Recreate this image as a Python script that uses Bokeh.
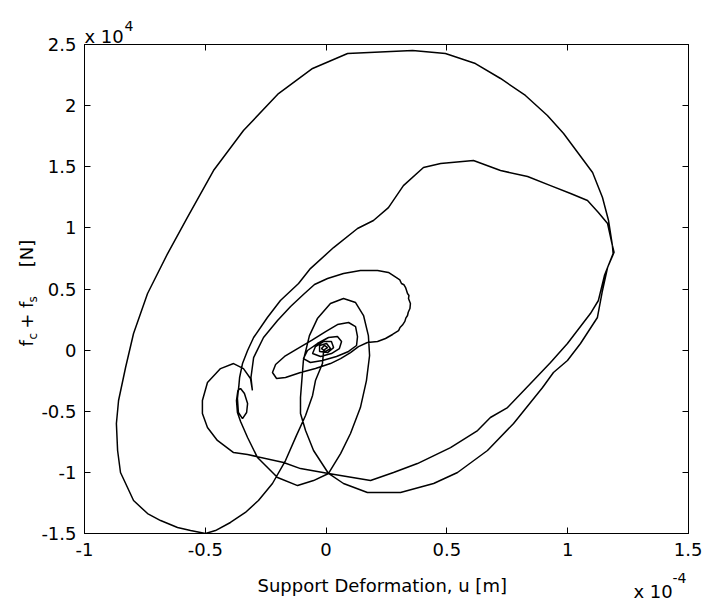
import math

from bokeh.embed import file_html
from bokeh.models import FixedTicker, Label, LinearAxis, Range1d
from bokeh.plotting import figure
from bokeh.resources import INLINE

FONT = "DejaVu Sans"
NB = "\u00a0"  # non-collapsing space used to lay out sub/superscripts

# Axis ticks (deformation in units of 1e-4 m, force in units of 1e4 N)
x_ticks = [-1, -0.5, 0, 0.5, 1, 1.5]
x_tick_labels = ["-1", "-0.5", "0", "0.5", "1", "1.5"]
y_ticks = [-1.5, -1, -0.5, 0, 0.5, 1, 1.5, 2, 2.5]
y_tick_labels = ["-1.5", "-1", "-0.5", "0", "0.5", "1", "1.5", "2", "2.5"]

# Hysteresis trajectory, in time order, split into phases
# initial pulse from rest
u_pulse = [-0.010, -0.015, -0.044, -0.056, -0.085, -0.123, -0.168, -0.222,
           -0.280, -0.334, -0.396, -0.458, -0.499]
f_pulse = [0.000, -0.110, -0.249, -0.371, -0.535, -0.699, -0.903, -1.091,
           -1.230, -1.328, -1.410, -1.476, -1.500]

# first (largest) cycle
u_cycle1 = [-0.561, -0.615, -0.685, -0.739, -0.797, -0.822, -0.851, -0.863,
            -0.868, -0.859, -0.830, -0.797, -0.739, -0.656, -0.574, -0.466,
            -0.342, -0.197, -0.056, 0.089, 0.358, 0.494, 0.618, 0.722,
            0.825, 0.916, 0.983, 1.103, 1.144, 1.169, 1.185, 1.192,
            1.165, 1.144, 1.123, 1.053, 0.999, 0.941, 0.896, 0.776,
            0.668, 0.544, 0.445, 0.308, 0.171]
f_cycle1 = [-1.476, -1.451, -1.394, -1.337, -1.230, -1.124, -1.001, -0.821,
            -0.600, -0.412, -0.142, 0.136, 0.463, 0.790, 1.085, 1.469,
            1.796, 2.099, 2.304, 2.426, 2.451, 2.426, 2.344, 2.222,
            2.083, 1.919, 1.772, 1.453, 1.248, 1.060, 0.856, 0.800,
            0.676, 0.488, 0.267, 0.054, -0.085, -0.183, -0.306, -0.600,
            -0.821, -1.001, -1.091, -1.165, -1.165]

# narrow return loop
u_return = [0.072, 0.010, -0.052, -0.085, -0.106, -0.106, -0.094, -0.069,
            -0.036, 0.018, 0.072, 0.122, 0.155, 0.175, 0.180, 0.167,
            0.142, 0.101, 0.060, 0.010, -0.052, -0.118, -0.201, -0.284,
            -0.325, -0.354]
f_return = [-1.091, -1.009, -0.821, -0.658, -0.519, -0.388, -0.085, 0.119,
            0.258, 0.381, 0.422, 0.389, 0.283, 0.119, -0.044, -0.249,
            -0.470, -0.682, -0.846, -1.009, -1.067, -1.108, -1.042, -0.879,
            -0.715, -0.584]

# second cycle
u_cycle2 = [-0.367, -0.371, -0.365, -0.354, -0.338, -0.325, -0.329, -0.346,
            -0.363, -0.367, -0.361, -0.358, -0.346, -0.325, -0.300, -0.243,
            -0.189, -0.114, -0.065, 0.031, 0.130, 0.196, 0.258, 0.320,
            0.403, 0.474, 0.610, 0.722, 0.834, 0.929, 1.012, 1.082,
            1.127, 1.165, 1.185, 1.188, 1.152, 1.127, 1.094, 0.999,
            0.929, 0.858, 0.751, 0.680, 0.627, 0.515, 0.378, 0.279,
            0.184, 0.010, -0.106, -0.176, -0.325, -0.383, -0.450, -0.491,
            -0.512, -0.512, -0.491, -0.437, -0.383, -0.342, -0.313, -0.305]
f_cycle2 = [-0.510, -0.412, -0.330, -0.314, -0.355, -0.437, -0.510, -0.560,
            -0.510, -0.396, -0.290, -0.224, -0.110, -0.003, 0.103, 0.267,
            0.406, 0.545, 0.667, 0.839, 0.995, 1.060, 1.166, 1.346,
            1.494, 1.526, 1.551, 1.469, 1.420, 1.346, 1.281, 1.224,
            1.126, 1.036, 0.856, 0.790, 0.610, 0.406, 0.299, 0.054,
            -0.101, -0.249, -0.470, -0.551, -0.658, -0.797, -0.928, -1.001,
            -1.067, -1.009, -0.969, -0.919, -0.854, -0.838, -0.739, -0.633,
            -0.519, -0.412, -0.265, -0.151, -0.110, -0.151, -0.232, -0.330]

# third cycle
u_cycle3 = [-0.311, -0.300, -0.259, -0.201, -0.147, -0.094, -0.048, 0.006,
            0.072, 0.142, 0.213, 0.258, 0.296, 0.305, 0.312, 0.322,
            0.329, 0.333, 0.337, 0.343, 0.341, 0.349, 0.347, 0.340,
            0.337, 0.330, 0.326, 0.316, 0.306, 0.300, 0.275, 0.246,
            0.213, 0.171]
f_cycle3 = [-0.224, -0.061, 0.103, 0.242, 0.357, 0.455, 0.537, 0.586,
            0.627, 0.651, 0.651, 0.635, 0.586, 0.575, 0.545, 0.535,
            0.512, 0.488, 0.463, 0.447, 0.422, 0.381, 0.340, 0.310,
            0.283, 0.262, 0.235, 0.205, 0.185, 0.160, 0.128, 0.095,
            0.070, 0.062]

# decaying oscillation back to rest
u_settle = [0.134, 0.101, 0.060, 0.018, -0.044, -0.106, -0.168, -0.205,
            -0.222, -0.209, -0.172, -0.118, -0.060, -0.002, 0.047, 0.093,
            0.122, 0.130, 0.126, 0.093, 0.043, -0.015, -0.065, -0.094,
            -0.077, -0.036, 0.010, 0.047, 0.064, 0.055, 0.022, -0.023,
            -0.056, -0.044, -0.011, 0.022, 0.031, 0.006, -0.027, -0.027,
            0.002, 0.018, -0.002, -0.019, -0.007, 0.006, -0.007]
f_settle = [0.029, -0.020, -0.069, -0.110, -0.151, -0.183, -0.224, -0.232,
            -0.183, -0.118, -0.052, 0.013, 0.079, 0.152, 0.209, 0.226,
            0.193, 0.111, 0.038, -0.011, -0.052, -0.085, -0.101, -0.069,
            -0.003, 0.054, 0.103, 0.111, 0.070, 0.013, -0.028, -0.052,
            -0.028, 0.029, 0.070, 0.070, 0.021, -0.020, -0.011, 0.038,
            0.054, 0.013, -0.011, 0.013, 0.038, 0.021, 0.005]

u = u_pulse + u_cycle1 + u_return + u_cycle2 + u_cycle3 + u_settle
f = f_pulse + f_cycle1 + f_return + f_cycle2 + f_cycle3 + f_settle

p = figure(
    frame_width=604, frame_height=489,
    min_border_left=84, min_border_right=14,
    min_border_top=44, min_border_bottom=69,
    x_range=Range1d(-1, 1.5), y_range=Range1d(-1.5, 2.5),
    output_backend="svg", toolbar_location=None,
)
p.background_fill_color = "white"
p.border_fill_color = "white"
p.outline_line_color = "black"
p.outline_line_width = 1
p.grid.visible = False

# mirrored tick marks on the top and right edges of the box
p.add_layout(LinearAxis(), "above")
p.add_layout(LinearAxis(), "right")


def style_axis(ax, ticks, labels, show_labels):
    ax.ticker = FixedTicker(ticks=ticks)
    ax.major_label_overrides = {t: s for t, s in zip(ticks, labels)}
    ax.major_tick_in = 6
    ax.major_tick_out = 0
    ax.minor_tick_line_color = None
    ax.axis_line_color = "black"
    ax.major_tick_line_color = "black"
    ax.major_label_text_font = FONT
    if show_labels:
        ax.major_label_text_font_size = "18px"
        ax.major_label_text_color = "black"
    else:
        ax.major_label_text_font_size = "0px"
        ax.major_label_text_color = None
        ax.major_label_text_alpha = 0
        ax.major_label_standoff = 0


style_axis(p.below[0], x_ticks, x_tick_labels, True)
style_axis(p.left[0], y_ticks, y_tick_labels, True)
style_axis(p.above[0], x_ticks, x_tick_labels, False)
style_axis(p.right[0], y_ticks, y_tick_labels, False)

p.below[0].major_label_standoff = 9
p.left[0].major_label_standoff = 8

p.line(u, f, line_color="black", line_width=1.5)


def canvas_label(side, x, y, text, size, angle=0.0):
    # x, y in canvas pixels measured from the top-left corner
    p.add_layout(Label(
        x=x, y=y, x_units="canvas", y_units="canvas",
        text=text, angle=angle, text_font=FONT, text_font_size=size,
        text_color="black", text_align="left", text_baseline="alphabetic",
    ), side)


# vertical axis title: f_c + f_s   [N]
up = math.pi / 2
canvas_label("left", 26, 346, "f" + NB * 2 + "+" + NB + "f" + NB * 6 + "[N]", "18px", up)
canvas_label("left", 32, 339, "c" + NB * 8 + "s", "12px", up)

# horizontal axis title
canvas_label("below", 257, 585, "Support Deformation, u [m]", "18px")

# axis multipliers
canvas_label("above", 84, 36, "x 10", "18px")
canvas_label("right", 124, 25, "4", "14px")
canvas_label("above", 633, 591, "x 10", "18px")
canvas_label("below", 672, 577, "-4", "14px")

open("out.html", "w").write(file_html(p, INLINE))
